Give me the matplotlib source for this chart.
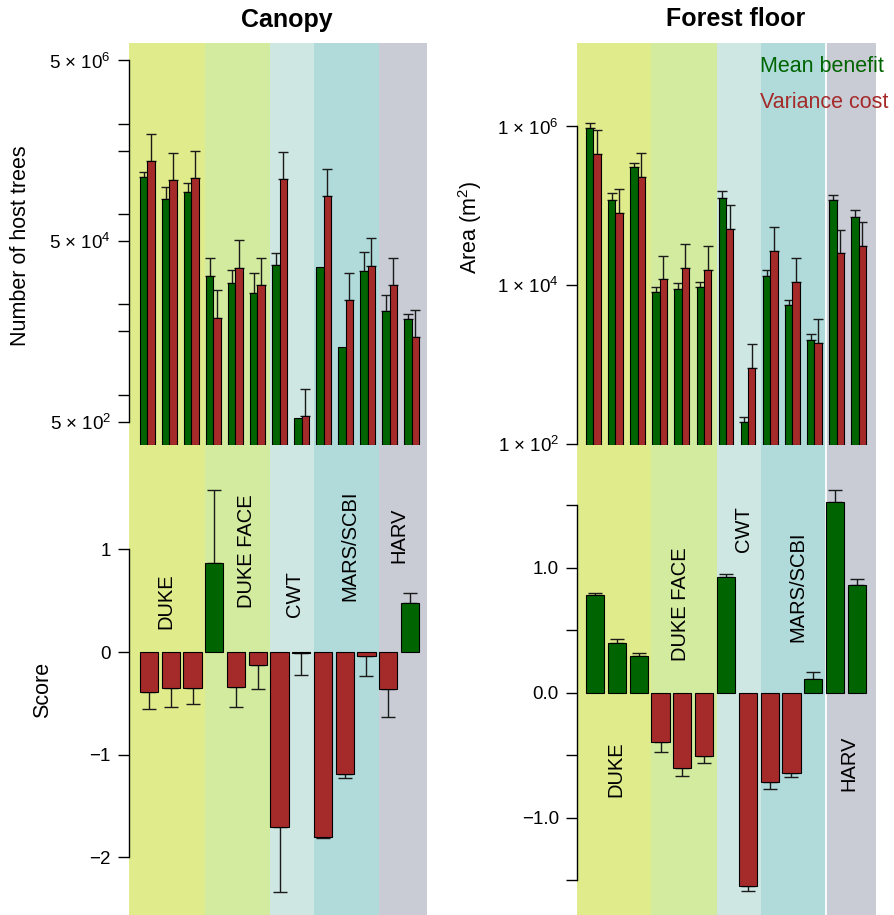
import matplotlib
matplotlib.use("Agg")
import matplotlib.pyplot as plt
import numpy as np
from matplotlib.ticker import NullLocator

plt.rcParams["font.family"] = ["Liberation Sans", "DejaVu Sans"]
plt.rcParams["mathtext.fontset"] = "custom"
plt.rcParams["mathtext.rm"] = "Liberation Sans"
plt.rcParams["mathtext.it"] = "Liberation Sans:italic"
plt.rcParams["mathtext.bf"] = "Liberation Sans:bold"
plt.rcParams["mathtext.default"] = "regular"

# sites, in bar order, and how many treatments each one has
sites = ["DUKE", "DUKE FACE", "CWT", "MARS/SCBI", "HARV"]
site_counts = [3, 3, 2, 3, 2]
site_colors = ["#e0ec8c", "#d2eb9e", "#cfe7e2", "#b0dbda", "#c9cbd5"]

# canopy: number of host trees (mean benefit / variance cost) and upper error
canopy_mean = [2.56e5, 1.46e5, 1.76e5, 2.05e4, 1.72e4, 1.32e4, 2.72e4, 549, 2.6e4, 3.39e3, 2.35e4, 8.47e3, 6.79e3]
canopy_mean_hi = [2.88e5, 1.99e5, 2.2e5, 3.27e4, 2.41e4, 2.23e4, 3.69e4, 549, 2.6e4, 3.39e3, 3.82e4, 1.27e4, 7.72e3]
canopy_var = [3.85e5, 2.35e5, 2.48e5, 7.1e3, 2.54e4, 1.62e4, 2.41e5, 578, 1.58e5, 1.11e4, 2.67e4, 1.63e4, 4.3e3]
canopy_var_hi = [7.73e5, 4.72e5, 4.97e5, 1.42e4, 5.09e4, 3.25e4, 4.84e5, 1.16e3, 3.17e5, 2.23e4, 5.36e4, 3.27e4, 8.63e3]
canopy_score = [-0.393, -0.347, -0.354, 0.867, -0.338, -0.13, -1.705, -0.012, -1.805, -1.19, -0.039, -0.36, 0.477]
canopy_score_err = [-0.552, -0.539, -0.506, 1.581, -0.532, -0.364, -2.334, -0.227, -1.81, -1.224, -0.234, -0.633, 0.578]

# forest floor: area (m2)
floor_mean = [9.6e5, 1.19e5, 3.07e5, 8.09e3, 8.91e3, 9.44e3, 1.26e5, 189, 1.32e4, 5.65e3, 2.05e3, 1.17e5, 7.26e4]
floor_mean_hi = [1.1e6, 1.47e5, 3.48e5, 9.44e3, 1.07e4, 1.1e4, 1.53e5, 219, 1.57e4, 6.47e3, 2.44e3, 1.35e5, 8.81e4]
floor_var = [4.44e5, 8.1e4, 2.3e5, 1.18e4, 1.64e4, 1.57e4, 5.08e4, 899, 2.71e4, 1.08e4, 1.86e3, 2.51e4, 3.07e4]
floor_var_hi = [8.9e5, 1.62e5, 4.61e5, 2.34e4, 3.26e4, 3.13e4, 1.02e5, 1.82e3, 5.38e4, 2.17e4, 3.69e3, 4.98e4, 6.22e4]
floor_score = [0.781, 0.397, 0.291, -0.395, -0.6, -0.507, 0.923, -1.547, -0.715, -0.645, 0.109, 1.523, 0.864]
floor_score_err = [0.8, 0.432, 0.315, -0.472, -0.667, -0.56, 0.952, -1.589, -0.768, -0.672, 0.165, 1.624, 0.912]

GREEN = "#006400"
RED = "#a52a2a"
W, H = 895, 915


def box(x0, y0, x1, y1):
    return [x0 / W, 1 - y1 / H, (x1 - x0) / W, (y1 - y0) / H]


def style_axis(ax):
    for s in ("top", "right", "bottom"):
        ax.spines[s].set_visible(False)
    ax.spines["left"].set_linewidth(1.0)
    ax.set_xticks([])
    ax.set_facecolor("none")
    ax.tick_params(axis="y", length=8, width=1.0, labelsize=13.5, pad=5)


def draw_err(ax, x, val, hi, capsize):
    x, val, hi = np.asarray(x), np.asarray(val), np.asarray(hi)
    keep = hi != val
    lower = np.where(hi < val, val - hi, 0)
    upper = np.where(hi > val, hi - val, 0)
    ax.errorbar(x[keep], val[keep], yerr=[lower[keep], upper[keep]], fmt="none",
                ecolor="#1a1a1a", elinewidth=1.0, capsize=capsize, capthick=1.0, zorder=1)


def draw_column(fig, px0, px1, xlim, mean, mean_hi, var, var_hi, score, score_err,
                ylim_top, ylim_bot, white_line=False):
    n = len(mean)
    # shaded site bands behind both panels
    bg = fig.add_axes(box(px0, 43, px1, 915))
    bg.set_xlim(xlim)
    bg.set_ylim(0, 1)
    bg.axis("off")
    starts = 0.2 + 1.2 * np.cumsum([0] + site_counts[:-1])
    edges = [xlim[0]] + list(starts[1:]) + [xlim[1]]
    for k, c in enumerate(site_colors):
        bg.axvspan(edges[k], edges[k + 1], color=c, lw=0)
    if white_line:
        bg.axvline(edges[-2], color="white", lw=1.3)

    # upper panel: paired bars on a log axis
    top = fig.add_axes(box(px0, 43, px1, 445))
    top.set_yscale("log")
    top.set_xlim(xlim)
    top.set_ylim(ylim_top)
    u = 15.4 / 38
    left_g = 0.2 + 3 * u * np.arange(n)
    left_r = left_g + u
    base = ylim_top[0]
    top.bar(left_g, np.asarray(mean) - base, bottom=base, width=u, align="edge",
            color=GREEN, edgecolor="black", lw=0.8, zorder=2)
    top.bar(left_r, np.asarray(var) - base, bottom=base, width=u, align="edge",
            color=RED, edgecolor="black", lw=0.8, zorder=2)
    draw_err(top, left_g + u / 2, mean, mean_hi, 3.5)
    draw_err(top, left_r + u / 2, var, var_hi, 3.5)
    style_axis(top)
    top.yaxis.set_minor_locator(NullLocator())

    # lower panel: score per treatment
    bot = fig.add_axes(box(px0, 445, px1, 915))
    bot.set_xlim(xlim)
    bot.set_ylim(ylim_bot)
    xb = 0.2 + 1.2 * np.arange(n)
    score = np.asarray(score)
    cols = [GREEN if s > 0 else RED for s in score]
    bot.bar(xb, score, width=1.0, align="edge", color=cols, edgecolor="black", lw=0.8, zorder=2)
    draw_err(bot, xb + 0.5, score, score_err, 5)
    style_axis(bot)
    return top, bot


fig = plt.figure(figsize=(W / 100, H / 100), dpi=100)

# Canopy column
top_l, bot_l = draw_column(fig, 129, 427, (-0.407, 16.04), canopy_mean, canopy_mean_hi,
                           canopy_var, canopy_var_hi, canopy_score, canopy_score_err,
                           (276, 7.81e6), (-2.561, 2.016))
ticks_l = [5e2, 1e3, 5e3, 1e4, 5e4, 1e5, 5e5, 1e6, 5e6]
lab_l = ["5 × 10$^{2}$", "", "", "", "5 × 10$^{4}$", "", "", "", "5 × 10$^{6}$"]
top_l.set_yticks(ticks_l, labels=lab_l)
top_l.spines["left"].set_bounds(5e2, 5e6)
bot_l.set_yticks([-2, -1, 0, 1], labels=["\u22122", "\u22121", "0", "1"])
bot_l.spines["left"].set_bounds(-2, 1)

lab_kw = dict(rotation=90, ha="center", va="center", fontsize=14.5,
              family=["DejaVu Sans Condensed", "Liberation Sans", "DejaVu Sans"], zorder=3)
for name, x, y in zip(sites, [1.62, 6.09, 8.75, 11.79, 14.49], [0.497, 0.983, 0.565, 1.032, 1.139]):
    bot_l.text(x, y, name, **lab_kw)

# Forest floor column
top_r, bot_r = draw_column(fig, 577, 876, (-0.295, 16.15), floor_mean, floor_mean_hi,
                           floor_var, floor_var_hi, floor_score, floor_score_err,
                           (96.3, 1.129e7), (-1.778, 1.982), white_line=True)
top_r.set_yticks([1e2, 1e4, 1e6], labels=["1 × 10$^{2}$", "1 × 10$^{4}$", "1 × 10$^{6}$"])
top_r.spines["left"].set_bounds(1e2, 1e6)
bot_r.set_yticks([-1.5, -1.0, -0.5, 0, 0.5, 1.0, 1.5],
                 labels=["", "\u22121.0", "", "0.0", "", "1.0", ""])
bot_r.spines["left"].set_bounds(-1.5, 1.5)
for name, x, y in zip(sites, [1.834, 5.41, 8.89, 11.86, 14.67], [-0.608, 0.71, 1.31, 0.846, -0.562]):
    bot_r.text(x, y, name, **lab_kw)

# titles, axis labels and key
fig.text(287 / W, 1 - 20 / H, "Canopy", ha="center", va="center", fontsize=18, fontweight="bold")
fig.text(736 / W, 1 - 19 / H, "Forest floor", ha="center", va="center", fontsize=18, fontweight="bold")
fig.text(21 / W, 1 - 246 / H, "Number of host trees", rotation=90, ha="center", va="center", fontsize=15.5)
fig.text(43 / W, 1 - 690 / H, "Score", rotation=90, ha="center", va="center", fontsize=15.5)
fig.text(470 / W, 1 - 227 / H, "Area (m$^{2}$)", rotation=90, ha="center", va="center", fontsize=15.5)
fig.text(760 / W, 1 - 66 / H, "Mean benefit", color=GREEN, ha="left", va="center", fontsize=15.5)
fig.text(760 / W, 1 - 102 / H, "Variance cost", color=RED, ha="left", va="center", fontsize=15.5)

fig.savefig("out.png", dpi=100)
